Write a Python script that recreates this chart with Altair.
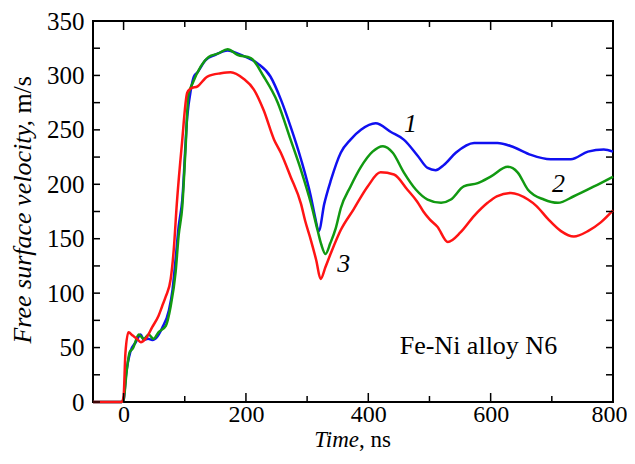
import altair as alt
import pandas as pd

# ---- data ----
t1 = [-50, -3, 0, 4, 11, 20, 28, 33, 40, 47, 55, 63, 74, 80, 85, 90, 96, 104, 110, 115, 121, 134, 150, 170,
      191, 219, 240, 257, 273, 290, 306, 313, 319, 328, 339, 355, 371, 388, 412, 437, 458, 481, 497, 510,
      524, 543, 573, 611, 638, 666, 698, 731, 759, 785, 800]
v1 = [0, 0, 2, 25, 46, 55, 62, 57, 58, 57, 60, 68, 84, 103, 131, 161, 186, 262, 287, 299, 303, 314, 319, 323,
      319, 311, 299, 278, 253, 223, 189, 170, 157, 182, 204, 229, 241, 250, 256, 248, 241, 226, 215, 213,
      218, 229, 238, 238, 234, 227, 223, 223, 230, 232, 230]

t2 = [-50, -3, 0, 5, 10, 15, 25, 33, 41, 49, 57, 69, 77, 85, 90, 96, 101, 106, 113, 126, 139, 154, 170, 186,
      208, 229, 252, 273, 290, 306, 317, 323, 330, 338, 347, 355, 371, 388, 407, 424, 440, 458, 478, 497,
      519, 535, 556, 579, 600, 628, 644, 661, 687, 710, 736, 769, 800]
v2 = [0, 0, 2, 28, 46, 49, 62, 58, 62, 58, 64, 70, 88, 119, 153, 180, 230, 282, 293, 308, 317, 320, 324, 319,
      316, 299, 275, 241, 213, 183, 158, 145, 136, 146, 160, 178, 198, 216, 230, 235, 229, 211, 195, 186,
      183, 186, 198, 201, 207, 216, 211, 195, 186, 183, 189, 198, 207]

t3 = [-50, -3, 0, 3, 8, 15, 22, 28, 36, 47, 57, 63, 69, 77, 82, 87, 95, 104, 110, 121, 137, 159, 175, 196,
      213, 229, 246, 257, 273, 290, 297, 306, 315, 322, 330, 339, 355, 376, 399, 420, 442, 464, 480, 490,
      500, 513, 530, 551, 573, 595, 610, 633, 661, 675, 694, 715, 736, 759, 780, 800]
v3 = [0, 0, 5, 45, 64, 61, 58, 55, 58, 69, 79, 88, 97, 113, 140, 182, 235, 284, 288, 290, 299, 302, 303, 297,
      287, 268, 241, 229, 207, 182, 166, 149, 130, 113, 124, 137, 158, 177, 198, 211, 209, 195, 184, 175,
      168, 161, 147, 156, 171, 183, 189, 192, 186, 180, 168, 157, 152, 157, 165, 176]

x_label_vals = [0, 200, 400, 600, 800]
x_minor_vals = [100, 300, 500, 700]
y_label_vals = [0, 50, 100, 150, 200, 250, 300, 350]
y_tick_vals = [0, 25, 50, 75, 100, 125, 150, 175, 200, 225, 250, 275, 300, 325, 350]

curve_labels = ["1", "2", "3"]
curve_label_t = [469, 711, 360]
curve_label_v = [255, 200, 127]

colors = ["#1010f0", "#119911", "#ff1414"]

FONT = "Liberation Serif"
FS_TICK = 24
FS = 26
FS_XT = 23
W, H = 520, 381

xs = alt.Scale(domain=[-50, 800], nice=False, zero=False)
ys = alt.Scale(domain=[0, 350], nice=False)

x_axis = alt.Axis(values=x_label_vals, title=None, ticks=False, domain=False, grid=False,
                  labelPadding=0, labelFontSize=FS_TICK, labelFont=FONT, labelColor="black",
                  labelFlush=False, format="d",
                  labelOffset={"condition": {"test": "datum.value === 800", "value": -4}, "value": 0})
y_axis = alt.Axis(values=y_label_vals, title=None, ticks=False, domain=False, grid=False,
                  labelPadding=9, labelFontSize=25, labelFont=FONT, labelColor="black",
                  labelFlush=False, format="d")


def X(field="t"):
    return alt.X(f"{field}:Q", scale=xs, axis=x_axis)


def Y(field="v"):
    return alt.Y(f"{field}:Q", scale=ys, axis=y_axis)


def curve(t, v, color):
    df = pd.DataFrame({"t": t, "v": v})
    return alt.Chart(df).mark_line(color=color, strokeWidth=2.5, interpolate="monotone",
                                   strokeJoin="round").encode(x=X(), y=Y())


layers = [curve(t1, v1, colors[0]), curve(t2, v2, colors[1]), curve(t3, v3, colors[2])]

# inward ticks
ytk = pd.DataFrame({"v": y_tick_vals})
xmaj = pd.DataFrame({"t": x_label_vals})
xmin = pd.DataFrame({"t": x_minor_vals})
tick_style = dict(color="black", strokeWidth=1.5)
layers += [
    alt.Chart(ytk).mark_rule(**tick_style).encode(y=Y(), x=alt.value(0), x2=alt.value(7)),
    alt.Chart(ytk).mark_rule(**tick_style).encode(y=Y(), x=alt.value(W - 7), x2=alt.value(W)),
    alt.Chart(xmaj).mark_rule(**tick_style).encode(x=X(), y=alt.value(H), y2=alt.value(H - 9)),
    alt.Chart(xmaj).mark_rule(**tick_style).encode(x=X(), y=alt.value(0), y2=alt.value(9)),
    alt.Chart(xmin).mark_rule(**tick_style).encode(x=X(), y=alt.value(H), y2=alt.value(H - 6)),
    alt.Chart(xmin).mark_rule(**tick_style).encode(x=X(), y=alt.value(0), y2=alt.value(6)),
]

# curve number labels
lab_df = pd.DataFrame({"t": curve_label_t, "v": curve_label_v, "txt": curve_labels})
layers.append(
    alt.Chart(lab_df).mark_text(font=FONT, fontSize=FS, fontStyle="italic", color="black",
                                baseline="middle", align="center").encode(
        x=X(), y=Y(), text="txt:N")
)

# annotation
ann_df = pd.DataFrame({"t": [580], "v": [44], "txt": ["Fe-Ni alloy N6"]})
layers.append(
    alt.Chart(ann_df).mark_text(font=FONT, fontSize=FS, color="black",
                                baseline="alphabetic", align="center").encode(
        x=X(), y=Y(), text="txt:N")
)

# axis titles (mixed italic / upright)
one = pd.DataFrame({"a": [0]})
layers += [
    alt.Chart(one).mark_text(font=FONT, fontSize=FS_XT, fontStyle="italic", color="black",
                             align="right", baseline="alphabetic").encode(
        x=alt.value(266), y=alt.value(425.8), text=alt.value("Time")),
    alt.Chart(one).mark_text(font=FONT, fontSize=FS_XT, color="black",
                             align="left", baseline="alphabetic").encode(
        x=alt.value(266), y=alt.value(425.8), text=alt.value(", ns")),
    alt.Chart(one).mark_text(font=FONT, fontSize=FS, fontStyle="italic", color="black",
                             align="right", baseline="alphabetic", angle=270).encode(
        x=alt.value(-62), y=alt.value(99), text=alt.value("Free surface velocity,")),
    alt.Chart(one).mark_text(font=FONT, fontSize=FS, color="black",
                             align="left", baseline="alphabetic", angle=270).encode(
        x=alt.value(-62), y=alt.value(92.6), text=alt.value("m/s")),
]

chart = alt.layer(*layers).properties(
    width=W, height=H, autosize="none", background="white",
    padding={"left": 85, "top": 13, "right": 14, "bottom": 50},
).configure_view(stroke="black", strokeWidth=2)

chart.save("out.html", embed_options={"renderer": "svg", "actions": False})
